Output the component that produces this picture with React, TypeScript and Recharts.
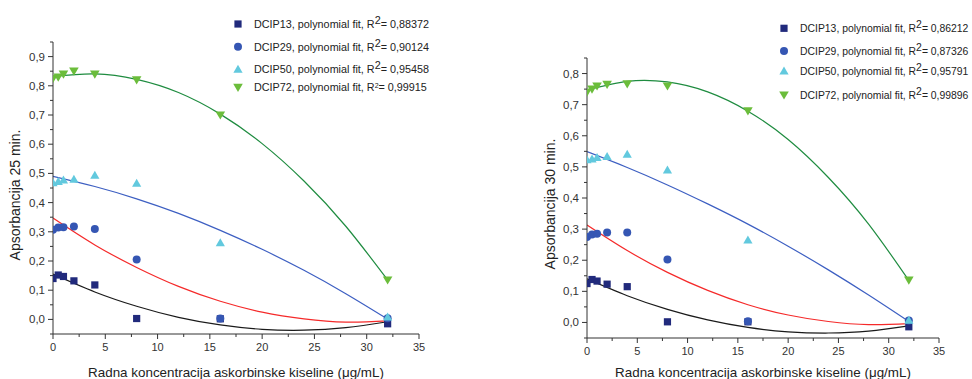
import React from 'react';
import { ComposedChart, Scatter, Line, XAxis, YAxis } from 'recharts';

// concentrations (ug/mL) used for every series
const conc = [0, 0.5, 1, 2, 4, 8, 16, 32];
const fitX = [0, 4, 8, 12, 16, 20, 24, 28, 32];

// 25 min measurements
const dcip13_25 = [0.14, 0.152, 0.147, 0.132, 0.118, 0.003, 0.002, -0.015];
const dcip29_25 = [0.307, 0.315, 0.316, 0.318, 0.31, 0.205, 0.003, 0.004];
const dcip50_25 = [0.468, 0.472, 0.477, 0.48, 0.493, 0.466, 0.262, 0.008];
const dcip72_25 = [0.825, 0.83, 0.84, 0.85, 0.84, 0.82, 0.7, 0.135];
// 25 min fitted curves
const fit13_25 = [0.155, 0.094, 0.045, 0.007, -0.019, -0.034, -0.037, -0.028, -0.008];
const fit29_25 = [0.347, 0.255, 0.178, 0.113, 0.062, 0.025, 0.002, -0.009, -0.005];
const fit50_25 = [0.49, 0.455, 0.413, 0.363, 0.305, 0.24, 0.168, 0.088, 0.001];
const fit72_25 = [0.832, 0.841, 0.822, 0.777, 0.703, 0.602, 0.474, 0.319, 0.135];
const r2_25 = ['0,88372', '0,90124', '0,95458', '0,99915'];

// 30 min measurements
const dcip13_30 = [0.125, 0.138, 0.133, 0.123, 0.115, 0.002, 0.002, -0.014];
const dcip29_30 = [0.275, 0.283, 0.285, 0.289, 0.289, 0.202, 0.004, 0.006];
const dcip50_30 = [0.523, 0.525, 0.53, 0.533, 0.54, 0.49, 0.265, 0.007];
const dcip72_30 = [0.74, 0.75, 0.76, 0.765, 0.767, 0.76, 0.68, 0.136];
// 30 min fitted curves
const fit13_30 = [0.14, 0.086, 0.042, 0.008, -0.016, -0.03, -0.034, -0.028, -0.011];
const fit29_30 = [0.313, 0.231, 0.161, 0.103, 0.057, 0.024, 0.003, -0.007, -0.004];
const fit50_30 = [0.549, 0.498, 0.442, 0.381, 0.316, 0.245, 0.169, 0.088, 0.003];
const fit72_30 = [0.747, 0.775, 0.773, 0.741, 0.679, 0.588, 0.466, 0.316, 0.135];
const r2_30 = ['0,86212', '0,87326', '0,95791', '0,99896'];

const seriesNames = ['DCIP13', 'DCIP29', 'DCIP50', 'DCIP72'];
const xTicks = [0, 2.5, 5, 7.5, 10, 12.5, 15, 17.5, 20, 22.5, 25, 27.5, 30, 32.5, 35];
const yTicks25 = [-0.05, 0, 0.05, 0.1, 0.15, 0.2, 0.25, 0.3, 0.35, 0.4, 0.45, 0.5, 0.55, 0.6, 0.65, 0.7, 0.75, 0.8, 0.85, 0.9, 0.95];
const yTicks30 = [-0.05, 0, 0.05, 0.1, 0.15, 0.2, 0.25, 0.3, 0.35, 0.4, 0.45, 0.5, 0.55, 0.6, 0.65, 0.7, 0.75, 0.8, 0.85];

const markerColors = ['#212a7c', '#3556b3', '#62c9de', '#6bbd3b'];
const lineColors = ['#1a1a1a', '#f52a2a', '#3d5fc2', '#1f8c40'];
const axisColor = '#333';
const FONT = '"Liberation Sans", Arial, sans-serif';

const toPoints = (xs: number[], ys: number[]) => xs.map((x, i) => ({ x, y: ys[i] }));

const Marker = ({ kind, cx, cy }: { kind: number; cx: number; cy: number }) => {
  const c = markerColors[kind];
  if (kind === 0) return <rect x={cx - 3.6} y={cy - 3.6} width={7.2} height={7.2} fill={c} />;
  if (kind === 1) return <circle cx={cx} cy={cy} r={4} fill={c} />;
  if (kind === 2)
    return <polygon points={`${cx},${cy - 4.6} ${cx + 4.6},${cy + 3.4} ${cx - 4.6},${cy + 3.4}`} fill={c} />;
  return <polygon points={`${cx},${cy + 4.6} ${cx + 4.8},${cy - 3.6} ${cx - 4.8},${cy - 3.6}`} fill={c} />;
};

const XTick = (props: any) => {
  const { x, y, payload } = props;
  const v = payload.value;
  const major = Math.abs(v % 5) < 1e-6;
  return (
    <g>
      <line x1={x} x2={x} y1={y} y2={y + (major ? 5 : 3)} stroke={axisColor} />
      {major && (
        <text x={x} y={y + 17} textAnchor="middle" fontSize={11} fill={axisColor} fontFamily={FONT}>
          {v}
        </text>
      )}
    </g>
  );
};

const YTick = (props: any) => {
  const { x, y, payload } = props;
  const v = payload.value;
  const major = Math.abs(Math.round(v * 100)) % 10 === 0;
  return (
    <g>
      <line x1={x - (major ? 5 : 3)} x2={x} y1={y} y2={y} stroke={axisColor} />
      {major && (
        <text x={x - 8} y={y + 4} textAnchor="end" fontSize={11.5} fill={axisColor} fontFamily={FONT}>
          {v.toFixed(1).replace('.', ',')}
        </text>
      )}
    </g>
  );
};

type PanelProps = {
  left: number;
  margin: { top: number; right: number; bottom: number; left: number };
  yTop: number;
  yTicks: number[];
  points: number[][];
  fits: number[][];
};

// axes get 1px of room (0 hides them), the margins take the rest
const Panel = ({ left, margin, yTop, yTicks, points, fits }: PanelProps) => (
  <div style={{ position: 'absolute', left, top: 0 }}>
    <ComposedChart width={486} height={379} margin={margin}>
      <XAxis
        type="number"
        dataKey="x"
        domain={[0, 35]}
        ticks={xTicks}
        interval={0}
        height={1}
        tickSize={0}
        tickMargin={0}
        tick={<XTick />}
        axisLine={{ stroke: axisColor }}
        tickLine={false}
        allowDataOverflow
      />
      <YAxis
        type="number"
        dataKey="y"
        domain={[-0.05, yTop]}
        ticks={yTicks}
        interval={0}
        width={1}
        tickSize={0}
        tickMargin={0}
        tick={<YTick />}
        axisLine={{ stroke: axisColor }}
        tickLine={false}
        allowDataOverflow
      />
      {fits.map((f, i) => (
        <Line
          key={'fit' + i}
          data={toPoints(fitX, f)}
          dataKey="y"
          type="natural"
          stroke={lineColors[i]}
          strokeWidth={1.2}
          dot={false}
          activeDot={false}
          isAnimationActive={false}
        />
      ))}
      {points.map((p, i) => (
        <Scatter
          key={'pts' + i}
          data={toPoints(conc, p)}
          dataKey="y"
          isAnimationActive={false}
          shape={(s: any) => <Marker kind={i} cx={s.cx} cy={s.cy} />}
        />
      ))}
    </ComposedChart>
  </div>
);

type LegendProps = { x: number; ys: number[]; r2: string[]; smallLast: boolean; size: number };

const LegendBlock = ({ x, ys, r2, smallLast, size }: LegendProps) => (
  <g fontFamily={FONT} fontSize={size} fill="#222">
    {ys.map((y, i) => {
      const small = smallLast && i === 3;
      return (
        <g key={i}>
          <Marker kind={i} cx={x} cy={y} />
          <text x={x + 16} y={y + 4}>
            {seriesNames[i]}, polynomial fit, R
            <tspan dy={small ? -3 : -4} fontSize={small ? 7 : size}>
              2
            </tspan>
            <tspan dy={small ? 3 : 4}>= {r2[i]}</tspan>
          </text>
        </g>
      );
    })}
  </g>
);

export default function App() {
  return (
    <div
      style={{
        position: 'absolute',
        left: 0,
        top: 0,
        width: 972,
        height: 379,
        background: '#fff',
        overflow: 'hidden',
      }}
    >
      <Panel
        left={0}
        margin={{ top: 42, right: 67, bottom: 44, left: 52 }}
        yTop={0.95}
        yTicks={yTicks25}
        points={[dcip13_25, dcip29_25, dcip50_25, dcip72_25]}
        fits={[fit13_25, fit29_25, fit50_25, fit72_25]}
      />
      <Panel
        left={486}
        margin={{ top: 58, right: 33, bottom: 40, left: 100 }}
        yTop={0.85}
        yTicks={yTicks30}
        points={[dcip13_30, dcip29_30, dcip50_30, dcip72_30]}
        fits={[fit13_30, fit29_30, fit50_30, fit72_30]}
      />
      <svg width={972} height={379} style={{ position: 'absolute', left: 0, top: 0, pointerEvents: 'none' }}>
        <LegendBlock x={238} ys={[24, 46.7, 69.3, 87.3]} r2={r2_25} smallLast size={10.8} />
        <LegendBlock x={784} ys={[28.3, 51, 71, 95]} r2={r2_30} smallLast={false} size={10.4} />
        <g fontFamily={FONT} fontSize={13.4} fill="#222" textAnchor="middle">
          <text x={236} y={377}>Radna koncentracija askorbinske kiseline (μg/mL)</text>
          <text x={763} y={377}>Radna koncentracija askorbinske kiseline (μg/mL)</text>
        </g>
        <g fontFamily={FONT} fontSize={14} fill="#222" textAnchor="middle">
          <text transform="translate(20,195) rotate(-90)">Apsorbancija 25 min.</text>
          <text transform="translate(555,204) rotate(-90)">Apsorbancija 30 min.</text>
        </g>
      </svg>
    </div>
  );
}
